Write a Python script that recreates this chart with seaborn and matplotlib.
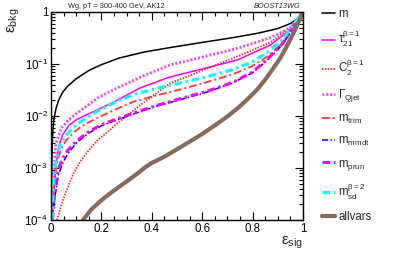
import numpy as np
import pandas as pd
import matplotlib
matplotlib.use("Agg")
import matplotlib.pyplot as plt
import seaborn as sns
from matplotlib.ticker import MultipleLocator, FixedLocator, FixedFormatter, LogLocator, NullFormatter

# ---------------- data ----------------
m_sig = [0.0, 0.002, 0.004, 0.007, 0.012, 0.02, 0.03, 0.045, 0.065, 0.1, 0.15, 0.2, 0.27, 0.37, 0.48, 0.6, 0.72, 0.82, 0.9, 0.95, 0.98, 1.0]
m_bkg = [1e-4, 5e-4, 2e-3, 5e-3, 9e-3, 0.014, 0.02, 0.028, 0.037, 0.052, 0.075, 0.097, 0.13, 0.17, 0.21, 0.26, 0.32, 0.39, 0.48, 0.6, 0.75, 1.0]

tau_sig = [0.003, 0.01, 0.02, 0.03, 0.045, 0.07, 0.1, 0.15, 0.21, 0.27, 0.35, 0.47, 0.6, 0.74, 0.87, 0.96, 1.0]
tau_bkg = [1e-4, 3.5e-4, 1.1e-3, 2.5e-3, 4.2e-3, 6.5e-3, 8.5e-3, 0.011, 0.015, 0.021, 0.034, 0.056, 0.08, 0.12, 0.23, 0.5, 1.0]

c2_sig = [0.024, 0.036, 0.05, 0.067, 0.09, 0.119, 0.15, 0.187, 0.23, 0.266, 0.31, 0.373, 0.47, 0.6, 0.74, 0.87, 0.95, 1.0]
c2_bkg = [1e-4, 1.6e-4, 2.6e-4, 4.3e-4, 8e-4, 1.4e-3, 2.2e-3, 3.5e-3, 5.2e-3, 7.4e-3, 0.011, 0.019, 0.042, 0.075, 0.14, 0.26, 0.5, 1.0]

qjet_sig = [0.002, 0.008, 0.02, 0.04, 0.07, 0.12, 0.19, 0.27, 0.37, 0.47, 0.6, 0.74, 0.87, 0.95, 1.0]
qjet_bkg = [1e-4, 7e-4, 3e-3, 5.8e-3, 8.5e-3, 0.013, 0.023, 0.036, 0.06, 0.095, 0.135, 0.2, 0.32, 0.5, 1.0]

trim_sig = [0.005, 0.01, 0.016, 0.024, 0.04, 0.06, 0.09, 0.12, 0.18, 0.25, 0.33, 0.42, 0.52, 0.62, 0.72, 0.8, 0.86, 0.92, 0.96, 1.0]
trim_bkg = [1e-4, 3e-4, 7e-4, 1.3e-3, 2.3e-3, 3.4e-3, 4.8e-3, 6.3e-3, 9e-3, 0.013, 0.019, 0.025, 0.033, 0.045, 0.063, 0.092, 0.14, 0.26, 0.5, 1.0]

mmdt_sig = [0.006, 0.012, 0.016, 0.028, 0.045, 0.067, 0.1, 0.147, 0.2, 0.254, 0.33, 0.42, 0.52, 0.62, 0.72, 0.8, 0.86, 0.92, 0.96, 1.0]
mmdt_bkg = [1e-4, 2e-4, 2.8e-4, 7e-4, 1.2e-3, 1.9e-3, 3.0e-3, 4.6e-3, 6.5e-3, 8.2e-3, 0.011, 0.0155, 0.021, 0.029, 0.043, 0.068, 0.12, 0.24, 0.48, 1.0]

prun_sig = [0.006, 0.012, 0.016, 0.028, 0.045, 0.067, 0.1, 0.147, 0.2, 0.254, 0.33, 0.42, 0.52, 0.62, 0.72, 0.8, 0.86, 0.92, 0.96, 1.0]
prun_bkg = [1e-4, 2.5e-4, 3.3e-4, 9e-4, 1.5e-3, 2.2e-3, 3.3e-3, 4.9e-3, 6.8e-3, 8.5e-3, 0.0115, 0.016, 0.022, 0.03, 0.044, 0.07, 0.125, 0.25, 0.5, 1.0]

sd_sig = [0.004, 0.008, 0.014, 0.02, 0.035, 0.056, 0.085, 0.12, 0.18, 0.25, 0.33, 0.42, 0.52, 0.62, 0.72, 0.8, 0.86, 0.92, 0.96, 1.0]
sd_bkg = [1e-4, 3.3e-4, 8e-4, 1.4e-3, 2.6e-3, 4e-3, 5.8e-3, 8e-3, 0.012, 0.018, 0.026, 0.034, 0.044, 0.057, 0.078, 0.11, 0.17, 0.3, 0.55, 1.0]

all_sig = [0.127, 0.16, 0.2, 0.25, 0.3, 0.35, 0.37, 0.4, 0.45, 0.5, 0.55, 0.6, 0.65, 0.7, 0.74, 0.78, 0.82, 0.85, 0.88, 0.91, 0.94, 0.97, 1.0]
all_bkg = [1e-4, 1.6e-4, 2.4e-4, 3.7e-4, 5.5e-4, 8.3e-4, 1.0e-3, 1.25e-3, 1.65e-3, 2.3e-3, 3.2e-3, 4.5e-3, 6.6e-3, 0.0098, 0.014, 0.021, 0.033, 0.05, 0.08, 0.13, 0.24, 0.47, 1.0]

labels = ["m", r"$\tau_{21}^{\beta=1}$", r"$C_{2}^{\beta=1}$", r"$\Gamma_{Qjet}$",
          r"$m_{trim}$", r"$m_{mmdt}$", r"$m_{prun}$", r"$m_{sd}^{\beta=2}$", "allvars"]

xtick_vals = [0, 0.2, 0.4, 0.6, 0.8, 1.0]
xtick_labels = ["0", "0.2", "0.4", "0.6", "0.8", "1"]
ytick_vals = [1e-4, 1e-3, 1e-2, 1e-1, 1.0]
ytick_labels = [r"$10^{-4}$", r"$10^{-3}$", r"$10^{-2}$", r"$10^{-1}$", "1"]

# ---------------- style ----------------
sns.set_theme(style="ticks")
plt.rcParams["font.family"] = ["Liberation Sans", "DejaVu Sans"]
plt.rcParams["mathtext.fontset"] = "custom"
plt.rcParams["mathtext.rm"] = "Liberation Sans"
plt.rcParams["mathtext.it"] = "Liberation Sans"
plt.rcParams["mathtext.bf"] = "Liberation Sans:bold"
plt.rcParams["mathtext.default"] = "regular"

fig = plt.figure(figsize=(3.99, 2.54), dpi=100)
ax = fig.add_axes([51 / 399, 1 - 220 / 254, 252 / 399, 208 / 254])

series = [
    (m_sig, m_bkg, dict(color="black", lw=1.1, ls="-")),
    (tau_sig, tau_bkg, dict(color="#ff00ff", lw=1.1, ls="-")),
    (c2_sig, c2_bkg, dict(color="#ff2020", lw=1.3, ls=(0, (0.8, 0.8)))),
    (qjet_sig, qjet_bkg, dict(color="#f044f0", lw=2.0, ls=(0, (0.7, 0.7)))),
    (trim_sig, trim_bkg, dict(color="#ff4040", lw=1.4, ls=(0, (4, 1.5, 1, 1.5)))),
    (mmdt_sig, mmdt_bkg, dict(color="#0000ff", lw=1.1, ls=(0, (4, 1.5, 1, 1.5)))),
    (prun_sig, prun_bkg, dict(color="#ff00ff", lw=2.2, ls=(0, (2.5, 1.2, 0.8, 1.2)))),
    (sd_sig, sd_bkg, dict(color="#00ffff", lw=2.2, ls=(0, (2.5, 1.2, 0.8, 1.2)))),
    (all_sig, all_bkg, dict(color="#8c6a5a", lw=3.0, ls="-")),
]

for (xs, ys, st), lab in zip(series, labels):
    df = pd.DataFrame({"sig": xs, "bkg": ys})
    sns.lineplot(data=df, x="sig", y="bkg", ax=ax, sort=False, estimator=None,
                 color=st["color"], lw=st["lw"], linestyle=st["ls"], label=lab)

ax.set_yscale("log")
ax.set_xlim(0, 1)
ax.set_ylim(1e-4, 1)
ax.xaxis.set_major_locator(FixedLocator(xtick_vals))
ax.xaxis.set_major_formatter(FixedFormatter(xtick_labels))
ax.xaxis.set_minor_locator(MultipleLocator(0.05))
ax.yaxis.set_major_locator(FixedLocator(ytick_vals))
ax.yaxis.set_major_formatter(FixedFormatter(ytick_labels))
ax.yaxis.set_minor_locator(LogLocator(base=10, subs=np.arange(2, 10)))
ax.yaxis.set_minor_formatter(NullFormatter())
ax.tick_params(which="both", direction="in", top=True, right=True, colors="black",
               labelsize=8.3, width=0.8, pad=2)
ax.tick_params(which="major", length=6)
ax.tick_params(which="minor", length=3)
for s in ax.spines.values():
    s.set_color("black")
    s.set_linewidth(1.0)
ax.set_xlabel("")
ax.set_ylabel("")

fig.text(0.015, 0.97, r"$ε_{bkg}$", rotation=90, ha="left", va="top", fontsize=11)
fig.text(303 / 399, 1 - 245 / 254, r"$ε_{sig}$", ha="right", va="baseline", fontsize=11)
fig.text(68 / 399, 1 - 8 / 254, "Wg, pT = 300-400 GeV, AK12", fontsize=5.3, ha="left", va="baseline")
fig.text(301 / 399, 1 - 8 / 254, "BOOST13WG", fontsize=5.3, ha="right", va="baseline", style="italic")

leg = ax.legend(loc="upper left", bbox_to_anchor=(322 / 399, 1 - 8 / 254),
                bbox_transform=fig.transFigure, frameon=False, fontsize=8.3,
                handlelength=1.15, handletextpad=0.28, labelspacing=0.78,
                borderpad=0, borderaxespad=0)

fig.savefig("out.png", dpi=100)
